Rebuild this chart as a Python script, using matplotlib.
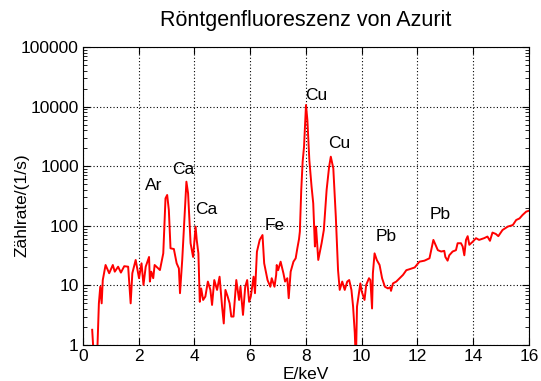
import numpy as np
import matplotlib.pyplot as plt

plt.rcParams['font.family'] = ['Liberation Sans', 'DejaVu Sans']

# Spektrum: Energie in keV, Zaehlrate in 1/s
energie = [0.33, 0.40, 0.50, 0.57, 0.62, 0.67, 0.71, 0.81, 0.94, 1.07, 1.14, 1.26, 1.36, 1.48,
           1.62, 1.71, 1.77, 1.89, 2.01, 2.10, 2.17, 2.25, 2.37, 2.40, 2.45, 2.52, 2.57, 2.76,
           2.88, 2.96, 3.02, 3.08, 3.14, 3.26, 3.36, 3.44, 3.48, 3.56, 3.71, 3.77, 3.86, 3.95,
           4.04, 4.08, 4.14, 4.19, 4.24, 4.31, 4.39, 4.48, 4.57, 4.63, 4.71, 4.81, 4.90, 4.99,
           5.05, 5.11, 5.19, 5.26, 5.32, 5.40, 5.50, 5.60, 5.65, 5.74, 5.82, 5.89, 5.96, 6.02,
           6.12, 6.17, 6.24, 6.34, 6.44, 6.50, 6.62, 6.72, 6.77, 6.87, 6.93, 6.95, 7.00, 7.09,
           7.19, 7.25, 7.33, 7.38, 7.45, 7.55, 7.63, 7.69, 7.75, 7.78, 7.83, 7.88, 7.93, 8.00,
           8.05, 8.12, 8.20, 8.26, 8.32, 8.36, 8.44, 8.56, 8.64, 8.74, 8.83, 8.89, 8.98, 9.07,
           9.15, 9.21, 9.30, 9.39, 9.48, 9.55, 9.63, 9.69, 9.75, 9.79, 9.83, 9.90, 9.95, 10.00,
           10.10, 10.16, 10.26, 10.31, 10.37, 10.40, 10.46, 10.54, 10.64, 10.73, 10.83, 10.94,
           11.02, 11.05, 11.12, 11.24, 11.36, 11.48, 11.60, 11.70, 11.90, 12.07, 12.25, 12.43,
           12.57, 12.73, 12.85, 12.96, 13.00, 13.08, 13.14, 13.26, 13.38, 13.44, 13.56, 13.62,
           13.68, 13.74, 13.80, 13.86, 13.98, 14.10, 14.21, 14.39, 14.51, 14.60, 14.69, 14.81,
           14.90, 15.05, 15.24, 15.42, 15.54, 15.66, 15.77, 15.90, 16.00]
rate = [1.8, 0.5, 0.5, 5, 9.5, 5, 12.3, 22, 16, 22, 17, 20.6, 16.4, 21,
        20.6, 5, 16, 26.7, 13.2, 23.5, 10.2, 20.6, 30, 11.6, 17, 13.2, 22, 18.1,
        34.5, 289, 329, 184, 41.9, 40.8, 23.5, 19.3, 7.4, 26.7, 550, 351, 51, 30,
        97, 58, 34.5, 5.3, 8.9, 5.7, 6.5, 11.6, 8.4, 4.7, 12.3, 8.4, 14, 4.4,
        2.3, 8.4, 6.5, 5, 3, 3, 12.3, 5.7, 9.5, 3.2, 9.5, 12.3, 5.3, 6.5,
        14, 7.4, 36.8, 58, 70, 23.5, 12.3, 9.5, 13.2, 9.5, 15, 22, 18, 25,
        16, 11.6, 13.2, 6.1, 17, 25, 28.5, 42, 60, 80, 400, 1190, 2130, 10640,
        5960, 1270, 454, 238, 45, 97, 26.7, 51, 85, 400, 982, 1445, 921, 142,
        18, 8.4, 11.6, 8.4, 11.6, 12.3, 8.4, 4.4, 1.6, 0.5, 4.4, 7.4, 10.8, 7.9,
        5.7, 10.2, 13.2, 12.3, 4.1, 16, 34.5, 26.7, 22, 13.2, 9.5, 8.9,
        9.3, 8.1, 10.8, 11.6, 13.2, 15, 18, 18.6, 20, 25, 26, 28.5,
        58, 39, 37, 38, 30, 26, 32, 37, 39, 51, 51, 45,
        32, 58, 67, 48, 54, 62, 58, 62, 66, 56, 77, 73,
        67, 85, 97, 103, 125, 133, 152, 173, 179]

# Linienbeschriftungen
linien = ['Ar', 'Ca', 'Ca', 'Fe', 'Cu', 'Cu', 'Pb', 'Pb']
linien_x = [2.54, 3.6, 4.43, 6.86, 8.36, 9.18, 10.86, 12.82]
linien_y = [480, 870, 190, 100, 15600, 2450, 67, 152]

fig = plt.figure(figsize=(5.41, 3.81), dpi=100)
ax = fig.add_axes([0.1534, 0.0945, 0.8244, 0.7821])

ax.plot(energie, rate, color='red', lw=1.4)
for name, x, y in zip(linien, linien_x, linien_y):
    ax.text(x, y, name, ha='center', va='center', fontsize=12.5)

ax.set_yscale('log')
ax.set_xlim(0, 16)
ax.set_ylim(1, 100000)
ax.set_xticks(np.arange(0, 17, 2))
ax.set_yticks([1, 10, 100, 1000, 10000, 100000])
ax.set_yticklabels(['1', '10', '100', '1000', '10000', '100000'])
ax.tick_params(which='both', direction='in', top=True, right=True, labelsize=12.5, pad=3)
ax.tick_params(which='major', length=5)
ax.tick_params(which='minor', length=3)
ax.tick_params(axis='x', which='minor', bottom=False, top=False)
ax.grid(True, which='major', color='black', linestyle=(0, (1, 2)), linewidth=0.8)

ax.set_xlabel('E/keV', fontsize=12.5)
ax.xaxis.set_label_coords(0.5, -0.075)
ax.set_ylabel('Zählrate/(1/s)', fontsize=12.5)
ax.yaxis.set_label_coords(-0.12, 0.47)
ax.set_title('Röntgenfluoreszenz von Azurit', fontsize=15.5, pad=15)

fig.savefig('out.png', dpi=100)
